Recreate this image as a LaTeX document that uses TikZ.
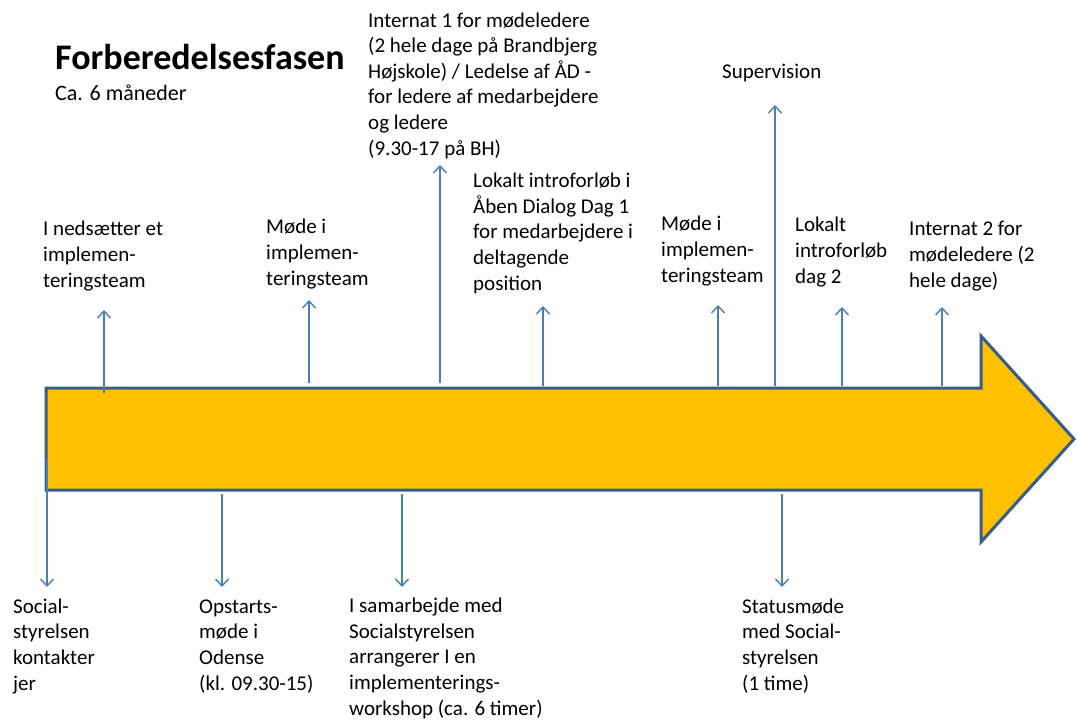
\documentclass[tikz,border=0pt]{standalone}
\usepackage{fontspec}
\setmainfont{Carlito}
\usetikzlibrary{arrows.meta}
\definecolor{bodyfill}{HTML}{FFC000}
\definecolor{bodyline}{HTML}{385D8A}
\definecolor{conn}{HTML}{4A7EBB}
\tikzset{
  lbl/.style={anchor=base west, inner sep=0pt, align=left, font=\fontsize{21}{25.6}\selectfont},
  conarrow/.style={draw=conn, line width=1.4pt, -{Straight Barb[length=7pt,width=13pt,line width=1.4pt]}},
  bigarrow/.style={fill=bodyfill, draw=bodyline, line width=3pt, line join=miter}
}
\begin{document}
\begin{tikzpicture}[x=1pt,y=-1pt]
\useasboundingbox (0,0) rectangle (1078,720);
% big arrow
\draw[bigarrow] (46,388) -- (981,388) -- (981,336) -- (1074,439) -- (981,542) -- (981,490) -- (46,490) -- cycle;
% title (anchors are at the baseline of the last line)
\node[anchor=base west, inner sep=0pt, font=\fontsize{36}{42}\selectfont\bfseries] (title) at (55,69) {Forberedelsesfasen};
\node[lbl, font=\fontsize{22}{26}\selectfont] (dur) at (55,100) {Ca. 6 måneder};
% upper labels
\node[lbl] (t1) at (43,287) {I nedsætter et\\implemen-\\teringsteam};
\node[lbl] (t2) at (266,285) {Møde i\\implemen-\\teringsteam};
\node[lbl] (t3) at (368,155) {Internat 1 for mødeledere\\(2 hele dage på Brandbjerg\\Højskole) / Ledelse af ÅD -\\for ledere af medarbejdere\\og ledere\\(9.30-17 på BH)};
\node[lbl] (t4) at (473,290) {Lokalt introforløb i\\Åben Dialog Dag 1\\for medarbejdere i\\deltagende\\position};
\node[lbl] (t5) at (661,282) {Møde i\\implemen-\\teringsteam};
\node[lbl] (t6) at (722,78) {Supervision};
\node[lbl] (t7) at (795,283) {Lokalt\\introforløb\\dag 2};
\node[lbl] (t8) at (909,287) {Internat 2 for\\mødeledere (2\\hele dage)};
% lower labels
\node[lbl] (b1) at (13,690) {Social-\\styrelsen\\kontakter\\jer};
\node[lbl] (b2) at (199,690) {Opstarts-\\møde i\\Odense\\(kl. 09.30-15)};
\node[lbl] (b3) at (349,715) {I samarbejde med\\Socialstyrelsen\\arrangerer I en\\implementerings-\\workshop (ca. 6 timer)};
\node[lbl] (b4) at (742,690) {Statusmøde\\med Social-\\styrelsen\\(1 time)};
% connector end points
\coordinate (u1s) at (104,393); \coordinate (u1e) at (104,310);
\coordinate (u2s) at (309,383); \coordinate (u2e) at (309,300);
\coordinate (u3s) at (440,383); \coordinate (u3e) at (440,165);
\coordinate (u4s) at (543,386); \coordinate (u4e) at (543,306);
\coordinate (u5s) at (718,386); \coordinate (u5e) at (718,305);
\coordinate (u6s) at (775,386); \coordinate (u6e) at (775,105);
\coordinate (u7s) at (842,386); \coordinate (u7e) at (842,307);
\coordinate (u8s) at (942,386); \coordinate (u8e) at (942,307);
\coordinate (d1s) at (47,458); \coordinate (d1e) at (47,587);
\coordinate (d2s) at (222,494); \coordinate (d2e) at (222,587);
\coordinate (d3s) at (402,494); \coordinate (d3e) at (402,587);
\coordinate (d4s) at (782,494); \coordinate (d4e) at (782,587);
\foreach \a in {u1,u2,u3,u4,u5,u6,u7,u8,d1,d2,d3,d4}
  \draw[conarrow] (\a s) -- (\a e);
\end{tikzpicture}
\end{document}
